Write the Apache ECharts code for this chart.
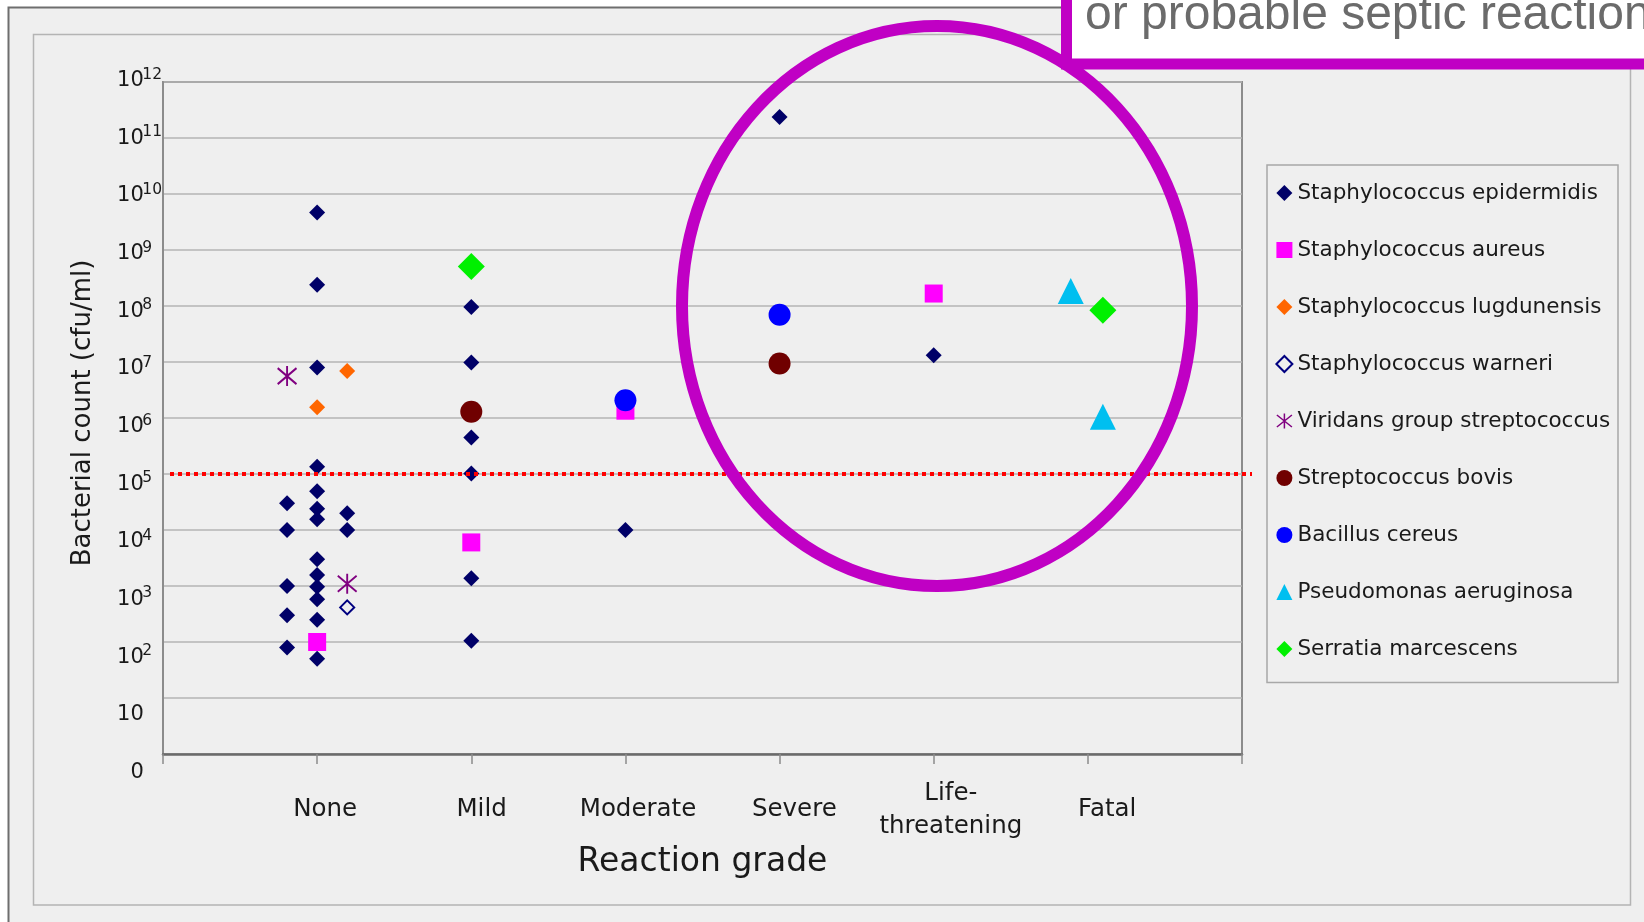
<!DOCTYPE html>
<html>
<head>
<meta charset="utf-8">
<script src="https://cdn.jsdelivr.net/npm/echarts@6/dist/echarts.min.js"></script>
<style>
html,body{margin:0;padding:0;background:#ffffff;}
#c{width:1644px;height:922px;}
</style>
</head>
<body>
<div id="c"></div>
<script>
// ---------------- data ----------------
const categories = ['None', 'Mild', 'Moderate', 'Severe', 'Life-threatening', 'Fatal'];
const xTickLabels = ['', 'None', 'Mild', 'Moderate', 'Severe', 'Life-\nthreatening', 'Fatal', ''];
const yBaseLabels = ['0', '10', '10', '10', '10', '10', '10', '10', '10', '10', '10', '10', '10'];
const ySupLabels  = ['', '', '2', '3', '4', '5', '6', '7', '8', '9', '10', '11', '12'];
const threshold = 1e5;

// rows: [category, column (jitter position), bacterial count cfu/ml]
const staphEpidermidis = [
  ['None', -1, 3e4], ['None', -1, 1e4], ['None', -1, 1e3], ['None', -1, 3e2], ['None', -1, 80],
  ['None', 0, 4.65e9], ['None', 0, 2.4e8], ['None', 0, 8e6], ['None', 0, 1.35e5], ['None', 0, 4.9e4],
  ['None', 0, 2.4e4], ['None', 0, 1.55e4], ['None', 0, 3e3], ['None', 0, 1.57e3], ['None', 0, 9.7e2],
  ['None', 0, 5.8e2], ['None', 0, 2.5e2], ['None', 0, 50],
  ['None', 1, 2e4], ['None', 1, 1e4],
  ['Mild', 0, 9.6e7], ['Mild', 0, 9.8e6], ['Mild', 0, 4.5e5], ['Mild', 0, 1.02e5], ['Mild', 0, 1.37e3], ['Mild', 0, 1.05e2],
  ['Moderate', 0, 1e4],
  ['Severe', 0, 2.37e11],
  ['Life-threatening', 0, 1.32e7]
];
const staphAureus = [['None', 0, 1e2], ['Mild', 0, 6e3], ['Moderate', 0, 1.35e6], ['Life-threatening', 0, 1.67e8]];
const staphLugdunensis = [['None', 1, 6.9e6], ['None', 0, 1.55e6]];
const staphWarneri = [['None', 1, 4.15e2]];
const viridansStrep = [['None', -1, 5.6e6], ['None', 1, 1.1e3]];
const strepBovis = [['Mild', 0, 1.29e6], ['Severe', 0, 9.4e6]];
const bacillusCereus = [['Moderate', 0, 2.08e6], ['Severe', 0, 7.0e7]];
const pseudomonas = [['Fatal', -0.57, 1.86e8], ['Fatal', 0.5, 1.05e6]];
const serratia = [['Mild', 0, 5.1e8], ['Fatal', 0.5, 8.4e7]];

// ---------------- chart ----------------
const FONT = 'DejaVu Sans';
const TXT = '#1a1a1a';
const PURPLE = '#c000c4';
const COL_STEP = 0.195;
const ASTERISK = 'path://M9,0L11,0L11,20L9,20ZM0.625,1.219L20.625,17.219L19.375,18.781L-0.625,2.781ZM-0.625,17.219L19.375,1.219L20.625,2.781L0.625,18.781Z';

// the y scale is logarithmic: positions are decades (log10 of the count)
function toPoints(rows) {
  return rows.map(r => [categories.indexOf(r[0]) + 1 + r[1] * COL_STEP, Math.log10(r[2])]);
}

const seriesDefs = [
  {name: 'Staphylococcus epidermidis', rows: staphEpidermidis, symbol: 'diamond', size: 16, itemStyle: {color: '#000068'}},
  {name: 'Staphylococcus aureus', rows: staphAureus, symbol: 'rect', size: 18, itemStyle: {color: '#ff00ff'}},
  {name: 'Staphylococcus lugdunensis', rows: staphLugdunensis, symbol: 'diamond', size: 16, itemStyle: {color: '#ff6600'}},
  {name: 'Staphylococcus warneri', rows: staphWarneri, symbol: 'diamond', size: 14, itemStyle: {color: '#efefef', borderColor: '#000080', borderWidth: 2}},
  {name: 'Viridans group streptococcus', rows: viridansStrep, symbol: ASTERISK, size: 20, itemStyle: {color: '#800080'}},
  {name: 'Streptococcus bovis', rows: strepBovis, symbol: 'circle', size: 22, itemStyle: {color: '#700000'}},
  {name: 'Bacillus cereus', rows: bacillusCereus, symbol: 'circle', size: 22, itemStyle: {color: '#0000ff'}},
  {name: 'Pseudomonas aeruginosa', rows: pseudomonas, symbol: 'triangle', size: [26, 26], itemStyle: {color: '#00bff0'}},
  {name: 'Serratia marcescens', rows: serratia, symbol: 'diamond', size: 27, itemStyle: {color: '#00f000'}}
];

const chart = echarts.init(document.getElementById('c'));

const hidden = {axisLine: {show: false}, axisTick: {show: false}, splitLine: {show: false}};

const option = {
  backgroundColor: '#ffffff',
  animation: false,
  grid: [
    {left: 163, top: 82, width: 1079, height: 672, show: true, borderColor: '#8c8c8c', borderWidth: 2,
     backgroundColor: 'transparent', outerBoundsMode: 'none', containLabel: false},
    {left: 168.8, top: 80.7, width: 1094.8, height: 691.8, show: false, outerBoundsMode: 'none', containLabel: false},
    {left: 168.8, top: 74.6, width: 1094.8, height: 691.8, show: false, outerBoundsMode: 'none', containLabel: false}
  ],
  xAxis: [
    {type: 'value', gridIndex: 0, min: 0, max: 7, interval: 1,
     axisLine: {show: true, lineStyle: {color: '#6a6a6a', width: 2.5}},
     axisTick: {show: true, length: 10, lineStyle: {color: '#8c8c8c', width: 1.5}},
     axisLabel: {show: false}, splitLine: {show: false},
     name: 'Reaction grade', nameLocation: 'middle', nameGap: 92, nameMoveOverlap: false,
     nameTextStyle: {fontFamily: FONT, fontSize: 33, color: TXT}},
    Object.assign({type: 'value', gridIndex: 1, min: 0, max: 7, interval: 1,
     axisLabel: {margin: 37.5, verticalAlign: 'middle', align: 'center', lineHeight: 33.5,
       fontFamily: FONT, fontSize: 24.5, color: TXT,
       formatter: v => xTickLabels[Math.round(v)] || ''}}, hidden),
    Object.assign({type: 'value', gridIndex: 2, min: 0, max: 7, interval: 1, axisLabel: {show: false}}, hidden)
  ],
  yAxis: [
    {type: 'value', gridIndex: 0, min: 0, max: 12, interval: 1,
     axisLine: {show: true, lineStyle: {color: '#8c8c8c', width: 2}},
     axisTick: {show: false}, axisLabel: {show: false},
     splitLine: {show: true, lineStyle: {color: '#b4b4b4', width: 1.5}},
     name: 'Bacterial count (cfu/ml)', nameLocation: 'middle', nameGap: 67, nameMoveOverlap: false,
     nameTextStyle: {fontFamily: FONT, fontSize: 26, color: TXT, padding: [0, 0, 0, 10]}},
    Object.assign({type: 'value', gridIndex: 1, min: 0, max: 12, interval: 1, position: 'left', offset: 0,
     axisLabel: {align: 'right', margin: 25, fontFamily: FONT, fontSize: 21, color: TXT,
       formatter: v => yBaseLabels[Math.round(v)]}}, hidden),
    Object.assign({type: 'value', gridIndex: 2, min: 0, max: 12, interval: 1, position: 'left', offset: 0,
     axisLabel: {align: 'left', margin: 26.5, fontFamily: FONT, fontSize: 15.5, color: TXT,
       formatter: v => ySupLabels[Math.round(v)]}}, hidden)
  ],
  legend: {
    orient: 'vertical', left: 1275.4, top: 182, itemWidth: 16, itemHeight: 16, itemGap: 35, padding: 0,
    textStyle: {fontFamily: FONT, fontSize: 21.5, color: TXT, lineHeight: 22},
    data: seriesDefs.map(s => s.name), selectedMode: false
  },
  series: seriesDefs.map(s => ({
    type: 'scatter', name: s.name, xAxisIndex: 0, yAxisIndex: 0,
    symbol: s.symbol, symbolSize: s.size, itemStyle: Object.assign({opacity: 1}, s.itemStyle),
    emphasis: {disabled: true}, silent: true,
    data: toPoints(s.rows)
  }))
};

chart.setOption(option);

const yThr = chart.convertToPixel({yAxisIndex: 0}, Math.log10(threshold));

chart.setOption({
  graphic: [
    {type: 'rect', z: -10, shape: {x: 8.5, y: 7.5, width: 2000, height: 2000},
     style: {fill: '#efefef', stroke: '#6e6e6e', lineWidth: 2}},
    {type: 'rect', z: -9, shape: {x: 33.5, y: 34.5, width: 1597, height: 870.5},
     style: {fill: 'none', stroke: '#b4b4b4', lineWidth: 1.5}},
    {type: 'rect', z: -9, shape: {x: 1267, y: 165, width: 351, height: 517.5},
     style: {fill: 'none', stroke: '#a8a8a8', lineWidth: 1.5}},
    {type: 'line', z: 40, shape: {x1: 170, y1: yThr, x2: 1252, y2: yThr},
     style: {stroke: '#ff0000', lineWidth: 4, lineDash: [4, 4]}},
    {type: 'ellipse', z: 50, shape: {cx: 937, cy: 306, rx: 255, ry: 280},
     style: {fill: 'none', stroke: PURPLE, lineWidth: 12}},
    {type: 'rect', z: 60, shape: {x: 1066.5, y: -20, width: 700, height: 84},
     style: {fill: '#ffffff', stroke: PURPLE, lineWidth: 11}},
    {type: 'text', z: 61, x: 1085, y: 15.4,
     style: {text: 'or probable septic reaction', fontFamily: 'Liberation Sans', fontSize: 48,
             fill: '#6b6b6b', textAlign: 'left', textVerticalAlign: 'middle'}}
  ]
});
</script>
</body>
</html>
